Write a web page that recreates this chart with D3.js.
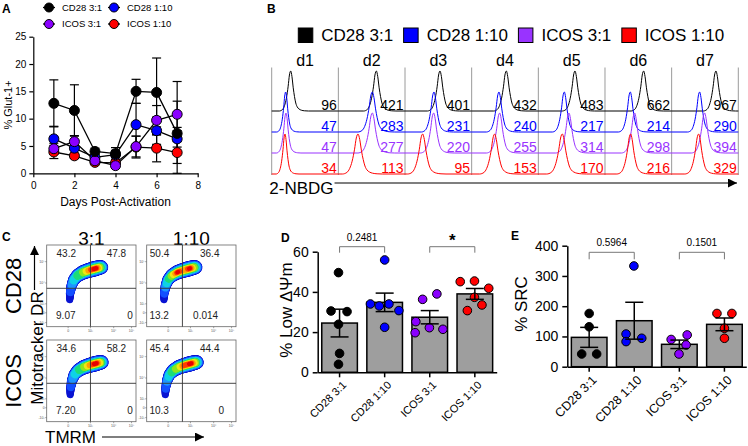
<!DOCTYPE html>
<html><head><meta charset="utf-8">
<script src="https://cdn.jsdelivr.net/npm/d3@7"></script>
<style>body{margin:0;background:#fff}svg{display:block}</style>
</head><body><svg id="c" width="748" height="446"></svg>
<script>
// ================= DATA =================
const seriesNames = ["CD28 3:1", "CD28 1:10", "ICOS 3:1", "ICOS 1:10"];
const seriesColors = ["#000000", "#0000ff", "#8a00ff", "#ff0000"];
const histColors = ["#000000", "#0000ff", "#9933ff", "#ff0000"];

// Panel A: % Glut-1+ over days
const daysA = [1, 2, 3, 4, 5, 6, 7];
const glutCD28_31  = [12.8, 11.5, 4.0, 3.6, 15.0, 14.8, 7.3];
const glutCD28_110 = [6.3, 4.6, 2.9, 3.4, 8.9, 7.8, 6.3];
const glutICOS_31  = [4.5, 5.8, 2.3, 1.4, 4.9, 9.7, 10.8];
const glutICOS_110 = [3.9, 3.2, 2.0, 1.9, 4.8, 4.6, 3.8];
const glutErrCD28_31  = [4.3, 4.7, 0.6, 1.1, 2.2, 6.3, 9.5];
const glutErrCD28_110 = [2.3, 1.2, 0.6, 0.8, 3.9, 2.5, 1.5];
const glutErrICOS_31  = [1.0, 1.1, 0.4, 0.3, 1.9, 2.7, 2.4];
const glutErrICOS_110 = [1.2, 0.5, 0.4, 0.3, 2.0, 2.5, 2.0];
const ticksAx = [0, 2, 4, 6, 8];
const ticksAy = [0, 5, 10, 15, 20, 25];

// Panel B: 2-NBDG histograms (MFI labels, peak position & width on a 0-100 channel scale)
const daysB = ["d1", "d2", "d3", "d4", "d5", "d6", "d7"];
const mfiCD28_31  = [96, 421, 401, 432, 483, 662, 967];
const mfiCD28_110 = [47, 283, 231, 240, 217, 214, 290];
const mfiICOS_31  = [47, 277, 220, 255, 314, 298, 394];
const mfiICOS_110 = [34, 113, 95, 153, 170, 216, 329];
const peakCD28_31  = [28.5, 57, 52.5, 52, 55, 58, 66.5];
const peakCD28_110 = [21, 51, 43.5, 41, 39, 38, 42];
const peakICOS_31  = [21.5, 51, 43, 42, 46, 44.5, 49.5];
const peakICOS_110 = [20, 29.5, 26.5, 34.5, 36, 38.5, 40.5];
const widthCD28_31  = [3.8, 4.2, 4.2, 4.2, 4.2, 4.2, 4.2];
const widthCD28_110 = [3.0, 4.8, 4.2, 4.2, 4.0, 4.0, 4.0];
const widthICOS_31  = [3.2, 4.8, 4.4, 4.4, 4.4, 4.4, 4.4];
const widthICOS_110 = [3.0, 5.2, 5.0, 5.0, 5.2, 4.6, 4.6];
// shared histogram profile (offset in widths, relative height)
const histProfileT = [-4.5, -3.2, -2.4, -1.7, -1, -0.5, 0, 0.5, 1, 1.5, 2, 2.6, 3.3, 4.2, 5.5, 7];
const histProfileH = [0, 0.04, 0.14, 0.32, 0.62, 0.9, 1, 0.86, 0.58, 0.36, 0.2, 0.1, 0.05, 0.02, 0.005, 0];

// Panel C: quadrant percentages
const ratiosC = ["3:1", "1:10"];
const costimC = ["CD28", "ICOS"];
const quadUL = ["43.2", "50.4", "34.6", "45.4"];
const quadUR = ["47.8", "36.4", "58.2", "44.4"];
const quadLL = ["9.07", "13.2", "7.20", "10.3"];
const quadLR = ["0", "0.014", "0", "0"];
const gateX = [0.49, 0.40, 0.49, 0.40];
const gateY = [0.47, 0.47, 0.47, 0.47];
// density ridge (TMRM, Mitotracker on 0-1 display scale) and relative density along it
const spineTMRM = [0.258, 0.262, 0.278, 0.305, 0.350, 0.412, 0.482, 0.545, 0.590, 0.615];
const spineMito = [0.33, 0.41, 0.50, 0.575, 0.630, 0.668, 0.693, 0.712, 0.724, 0.728];
const spineThick = [0.65, 0.8, 0.95, 1.1, 1.25, 1.35, 1.42, 1.45, 1.38, 1.25];
const blobShift = [0, -0.065, 0.005, -0.05];
const densCD28_31  = [0.02, 0.08, 0.18, 0.30, 0.42, 0.56, 0.85, 1.0, 0.60, 0.20];
const densCD28_110 = [0.02, 0.10, 0.22, 0.38, 0.60, 0.95, 0.72, 0.95, 0.55, 0.20];
const densICOS_31  = [0.02, 0.08, 0.16, 0.28, 0.40, 0.52, 0.80, 1.0, 0.65, 0.22];
const densICOS_110 = [0.02, 0.10, 0.20, 0.34, 0.48, 0.62, 0.92, 0.96, 0.60, 0.20];
const biexTicks = ["0", "10³", "10⁴", "10⁵"];
const biexTickPosX = [0.24, 0.49, 0.75, 0.95];
const biexYTicks = ["-10³", "0", "10³", "10⁴", "10⁵"];
const biexTickPosY = [0.05, 0.17, 0.28, 0.535, 0.796];

// Panel D: % Low ΔΨm
const lowPsiMean = [24.5, 34.8, 27.4, 39.0];
const lowPsiSem  = [6.9, 4.6, 3.3, 2.7];
const lowPsiCD28_31  = [49.6, 30.5, 30.2, 23.9, 9.4, 4.0];
const lowPsiCD28_110 = [55.9, 34.0, 33.0, 34.0, 30.7, 22.4];
const lowPsiICOS_31  = [36.3, 39.0, 25.2, 19.7, 22.2, 21.4];
const lowPsiICOS_110 = [45.1, 45.4, 41.8, 37.3, 30.7, 33.5];
const ticksD = [0, 20, 40, 60];
const pD = ["0.2481", "*"];

// Panel E: % SRC
const srcMean = [97, 152, 74, 140];
const srcSem  = [33, 61, 14, 21];
const srcCD28_31  = [176, 132, 42, 42];
const srcCD28_110 = [333, 108, 83, 94];
const srcICOS_31  = [90, 105, 72, 42];
const srcICOS_110 = [176, 176, 127, 94];
const ticksE = [0, 100, 200, 300, 400];
const pE = ["0.5964", "0.1501"];

// dot jitter (fraction of bar width) – layout only
const jitterD = [[-0.03, -0.24, 0.21, -0.03, 0, -0.03], [0, -0.40, -0.15, 0.12, 0.40, 0], [-0.20, 0.20, -0.39, -0.41, -0.01, 0.37], [-0.41, -0.01, 0.39, -0.01, -0.21, 0.20]];
const jitterE = [[0, 0, -0.21, 0.21], [-0.01, -0.23, -0.23, 0.21], [-0.23, 0.22, 0.19, -0.01], [-0.21, 0.21, 0, 0]];

// ================= DRAW =================
const FONT = '"Liberation Sans", Arial, Helvetica, sans-serif';
const svg = d3.select("#c").attr("font-family", FONT);
svg.append("rect").attr("width", 748).attr("height", 446).attr("fill", "#fff");

function styleAxis(g, fs, sw) {
  g.attr("font-family", FONT).attr("font-size", fs);
  g.selectAll("path.domain").attr("stroke", "#000").attr("stroke-width", sw);
  g.selectAll(".tick line").attr("stroke", "#000").attr("stroke-width", sw);
  g.selectAll(".tick text").attr("fill", "#000");
}
function panelLabel(t, x, y) {
  svg.append("text").attr("x", x).attr("y", y).attr("font-size", 12).attr("font-weight", "bold").text(t);
}
const defs = svg.append("defs");
defs.append("marker").attr("id", "arr").attr("viewBox", "0 0 10 10").attr("refX", 10).attr("refY", 5)
  .attr("markerWidth", 9).attr("markerHeight", 9).attr("markerUnits", "userSpaceOnUse").attr("orient", "auto")
  .append("path").attr("d", "M0,0L10,5L0,10Z").attr("fill", "#000");

// ---------- Panel A ----------
panelLabel("A", 2, 13);
const xA = d3.scaleLinear().domain([0, 8]).range([33.3, 197.7]);
const yA = d3.scaleLinear().domain([0, 25]).range([173.3, 36.7]);
const gA = svg.append("g");
styleAxis(gA.append("g").attr("transform", `translate(0,${yA(0)})`)
  .call(d3.axisBottom(xA).tickValues(ticksAx).tickSize(4).tickSizeOuter(0).tickPadding(5)), 10, 1.2);
styleAxis(gA.append("g").attr("transform", `translate(${xA(0)},0)`)
  .call(d3.axisLeft(yA).tickValues(ticksAy).tickSize(4).tickSizeOuter(0).tickPadding(3)), 10, 1.2);
gA.append("text").attr("x", xA(4)).attr("y", 206).attr("text-anchor", "middle").attr("font-size", 12).text("Days Post-Activation");
gA.append("text").attr("transform", `translate(12,${yA(12.5)}) rotate(-90)`).attr("text-anchor", "middle").attr("font-size", 11).text("% Glut-1+");

const glutMeans = [glutCD28_31, glutCD28_110, glutICOS_31, glutICOS_110];
const glutErrs = [glutErrCD28_31, glutErrCD28_110, glutErrICOS_31, glutErrICOS_110];
const lineA = d3.line().x((d, i) => xA(daysA[i])).y(d => yA(d));
glutMeans.forEach(s => gA.append("path").attr("d", lineA(s)).attr("fill", "none").attr("stroke", "#000").attr("stroke-width", 1.3));
glutMeans.forEach((s, si) => {
  s.forEach((m, i) => {
    const e = glutErrs[si][i], x = xA(daysA[i]);
    const lo = Math.max(0, m - e), hi = m + e;
    gA.append("line").attr("x1", x).attr("x2", x).attr("y1", yA(lo)).attr("y2", yA(hi)).attr("stroke", "#000").attr("stroke-width", 1.2);
    [lo, hi].forEach(v => gA.append("line").attr("x1", x - 4.5).attr("x2", x + 4.5).attr("y1", yA(v)).attr("y2", yA(v)).attr("stroke", "#000").attr("stroke-width", 1.2));
  });
});
[3, 1, 2, 0].forEach(si => {
  gA.selectAll(null).data(glutMeans[si]).enter().append("circle")
    .attr("cx", (d, i) => xA(daysA[i])).attr("cy", d => yA(d)).attr("r", 5)
    .attr("fill", seriesColors[si]).attr("stroke", "#000").attr("stroke-width", 1);
});
const legA = svg.append("g").attr("font-size", 9.5);
const legPosA = d3.scaleOrdinal().domain(seriesNames).range([[49, 7.5], [114, 7.5], [49, 24], [114, 24]]);
seriesNames.forEach((n, i) => {
  const [x, y] = legPosA(n);
  legA.append("line").attr("x1", x - 6).attr("x2", x + 6).attr("y1", y).attr("y2", y).attr("stroke", "#000").attr("stroke-width", 1.3);
  legA.append("circle").attr("cx", x).attr("cy", y).attr("r", 4.5).attr("fill", seriesColors[i]).attr("stroke", "#000");
  legA.append("text").attr("x", x + 13).attr("y", y + 3.4).text(n);
});

// ---------- Panel B ----------
panelLabel("B", 267, 13);
const gB = svg.append("g");
let lx = 298.3;
seriesNames.forEach((n, i) => {
  gB.append("rect").attr("x", lx).attr("y", 28).attr("width", 14.5).attr("height", 14.5)
    .attr("fill", histColors[i]).attr("stroke", "#000").attr("stroke-width", 1);
  const t = gB.append("text").attr("x", lx + 23).attr("y", 40.7).attr("font-size", 17).text(n);
  lx += 23 + t.node().getComputedTextLength() + 10.5;
});
const colB = d3.scaleBand().domain(daysB).range([271.7, 738.3]).padding(0);
const rowB = d3.scalePoint().domain(seriesNames).range([111, 174]);
const xIn = d3.scaleLinear().domain([0, 100]).range([0, colB.bandwidth()]);
const hB = d3.scaleLinear().domain([0, 1]).range([0, 40]);
daysB.concat(["end"]).forEach((d, i) => {
  const x = i < daysB.length ? colB(d) : colB.range()[1];
  gB.append("line").attr("x1", x).attr("x2", x).attr("y1", 67.5).attr("y2", 175).attr("stroke", "#9a9a9a").attr("stroke-width", 1);
});
daysB.forEach(d => gB.append("text").attr("x", colB(d) + colB.bandwidth() / 2).attr("y", 66).attr("text-anchor", "middle").attr("font-size", 16).text(d));
const peaks = [peakCD28_31, peakCD28_110, peakICOS_31, peakICOS_110];
const widths = [widthCD28_31, widthCD28_110, widthICOS_31, widthICOS_110];
const mfis = [mfiCD28_31, mfiCD28_110, mfiICOS_31, mfiICOS_110];
const histLine = d3.line().curve(d3.curveMonotoneX);
seriesNames.forEach((s, si) => {
  daysB.forEach((d, di) => {
    const p = peaks[si][di], w = widths[si][di];
    const pts = [[0, 0]].concat(histProfileT.map((t, k) => [Math.max(0.5, Math.min(99.5, p + t * w)), histProfileH[k]])).concat([[100, 0]]);
    gB.append("path").attr("d", histLine(pts.map(q => [colB(d) + xIn(q[0]), rowB(s) - hB(q[1])])))
      .attr("fill", "none").attr("stroke", histColors[si]).attr("stroke-width", 1);
  });
});
seriesNames.forEach((s, si) => {
  daysB.forEach((d, di) => {
    gB.append("text").attr("x", colB(d) + colB.bandwidth() - 1.5).attr("y", rowB(s) - 1)
      .attr("text-anchor", "end").attr("font-size", 14).attr("fill", histColors[si]).text(mfis[si][di]);
  });
});
const nb = gB.append("text").attr("x", 269.3).attr("y", 194).attr("font-size", 17).text("2-NBDG");
gB.append("line").attr("x1", 269.3 + nb.node().getComputedTextLength() + 1).attr("x2", 737).attr("y1", 183).attr("y2", 183)
  .attr("stroke", "#000").attr("stroke-width", 1.2).attr("marker-end", "url(#arr)");

// ---------- Panel C ----------
panelLabel("C", 2, 241);
const gC = svg.append("g");
const colC = d3.scaleBand().domain(ratiosC).range([46.7, 236]).paddingInner(0.107);
const rowC = d3.scaleBand().domain(costimC).range([245, 421.7]).paddingInner(0.14);
ratiosC.forEach(r => gC.append("text").attr("x", colC(r) + colC.bandwidth() / 2).attr("y", 245).attr("text-anchor", "middle").attr("font-size", 19).text(r));
costimC.forEach(c => gC.append("text").attr("transform", `translate(21,${rowC(c) + rowC.bandwidth() / 2}) rotate(-90)`).attr("text-anchor", "middle").attr("font-size", 22).text(c));
const layerColors = ["#0a14d2", "#1450ff", "#1e96ff", "#10d2e6", "#1edc78", "#8ce61e", "#f0e614", "#ffa000", "#ff3c00", "#e60000"];
const layerThr    = [0, 0.1, 0.2, 0.3, 0.42, 0.55, 0.68, 0.8, 0.88, 0.95];
const layerWidth  = [10.5, 9.4, 8.3, 7.3, 6.4, 5.5, 4.7, 4.0, 3.3, 2.6];
const densAll = [densCD28_31, densCD28_110, densICOS_31, densICOS_110];
const quadLRend = [0.965, 0.80, 0.965, 0.865];
const labelShift = [0, -0.075, 0, -0.075];
costimC.forEach((c, ri) => ratiosC.forEach((r, ci) => {
  const k = ri * 2 + ci;
  const x = d3.scaleLinear().domain([0, 1]).range([colC(r), colC(r) + colC.bandwidth()]);
  const y = d3.scaleLinear().domain([0, 1]).range([rowC(c) + rowC.bandwidth(), rowC(c)]);
  const g = gC.append("g");
  g.append("rect").attr("x", x(0)).attr("y", y(1)).attr("width", x(1) - x(0)).attr("height", y(0) - y(1))
    .attr("fill", "#fff").attr("stroke", "#666").attr("stroke-width", 0.8);
  const fine = [];
  const dens = densAll[k];
  for (let i = 0; i < spineTMRM.length - 1; i++) {
    for (let s = 0; s < 8; s++) {
      const f = s / 8;
      fine.push({
        px: x(spineTMRM[i] + (spineTMRM[i + 1] - spineTMRM[i]) * f + blobShift[k]),
        py: y(spineMito[i] + (spineMito[i + 1] - spineMito[i]) * f),
        d: dens[i] + (dens[i + 1] - dens[i]) * f,
        t: spineThick[i] + (spineThick[i + 1] - spineThick[i]) * f
      });
    }
  }
  const L = spineTMRM.length - 1;
  fine.push({ px: x(spineTMRM[L] + blobShift[k]), py: y(spineMito[L]), d: dens[L], t: spineThick[L] });
  layerColors.forEach((col, li) => {
    for (let i = 0; i < fine.length - 1; i++) {
      const a = fine[i], b = fine[i + 1];
      if (Math.max(a.d, b.d) < layerThr[li]) continue;
      g.append("line").attr("x1", a.px).attr("y1", a.py).attr("x2", b.px).attr("y2", b.py)
        .attr("stroke", col).attr("stroke-width", layerWidth[li] * (a.t + b.t) / 2).attr("stroke-linecap", "round");
    }
  });
  g.append("line").attr("x1", x(gateX[k])).attr("x2", x(gateX[k])).attr("y1", y(0)).attr("y2", y(1)).attr("stroke", "#333").attr("stroke-width", 0.9);
  g.append("line").attr("x1", x(0)).attr("x2", x(1)).attr("y1", y(gateY[k])).attr("y2", y(gateY[k])).attr("stroke", "#333").attr("stroke-width", 0.9);
  const fs = 10;
  g.append("text").attr("x", x(0.11 + labelShift[k])).attr("y", y(1) + 12).attr("font-size", fs).attr("fill", "#222").text(quadUL[k]);
  g.append("text").attr("x", x(0.672 + labelShift[k])).attr("y", y(1) + 12).attr("font-size", fs).attr("fill", "#222").text(quadUR[k]);
  g.append("text").attr("x", x(0.105 + labelShift[k])).attr("y", y(1) + 74).attr("font-size", fs).attr("fill", "#222").text(quadLL[k]);
  g.append("text").attr("x", x(quadLRend[k])).attr("y", y(1) + 74).attr("text-anchor", "end").attr("font-size", fs).attr("fill", "#222").text(quadLR[k]);
  biexTicks.forEach((t, i) => {
    g.append("line").attr("x1", x(biexTickPosX[i])).attr("x2", x(biexTickPosX[i])).attr("y1", y(0)).attr("y2", y(0) + 1.5).attr("stroke", "#666").attr("stroke-width", 0.6);
    g.append("text").attr("x", x(biexTickPosX[i])).attr("y", y(0) + 5).attr("text-anchor", "middle").attr("font-size", 3.5).attr("fill", "#555").text(t);
  });
  biexYTicks.forEach((t, i) => {
    g.append("line").attr("x1", x(0) - 1.5).attr("x2", x(0)).attr("y1", y(biexTickPosY[i])).attr("y2", y(biexTickPosY[i])).attr("stroke", "#666").attr("stroke-width", 0.6);
    g.append("text").attr("x", x(0) - 2).attr("y", y(biexTickPosY[i]) + 1.2).attr("text-anchor", "end").attr("font-size", 3.5).attr("fill", "#555").text(t);
  });
}));
gC.append("text").attr("transform", "translate(43,348) rotate(-90)").attr("text-anchor", "middle").attr("font-size", 17).text("Mitotracker DR");
gC.append("line").attr("x1", 34.5).attr("x2", 34.5).attr("y1", 290).attr("y2", 246).attr("stroke", "#000").attr("stroke-width", 1.2).attr("marker-end", "url(#arr)");
gC.append("text").attr("x", 45).attr("y", 442.5).attr("font-size", 17).text("TMRM");
gC.append("line").attr("x1", 102).attr("x2", 204).attr("y1", 437).attr("y2", 437).attr("stroke", "#000").attr("stroke-width", 1.2).attr("marker-end", "url(#arr)");

// ---------- Bar panels D & E ----------
function barPanel(opt) {
  const g = svg.append("g");
  const x = d3.scaleBand().domain(seriesNames).range(opt.xr).paddingInner(0.21).paddingOuter(0.09);
  const y = d3.scaleLinear().domain(opt.yd).range(opt.yr);
  styleAxis(g.append("g").attr("transform", `translate(${opt.xr[0]},0)`)
    .call(d3.axisLeft(y).tickValues(opt.ticks).tickSize(5).tickSizeOuter(0).tickPadding(4)), 14, 1.5);
  const xa = g.append("g").attr("transform", `translate(0,${y(0)})`)
    .call(d3.axisBottom(x).tickSize(5).tickSizeOuter(0).tickFormat(""));
  styleAxis(xa, 11, 1.5);
  seriesNames.forEach(n => g.append("text")
    .attr("transform", `translate(${x(n) + x.bandwidth() / 2 + 2},${y(0) + 8}) rotate(-45)`)
    .attr("text-anchor", "end").attr("dy", "0.7em").attr("font-size", opt.lfs).text(n));
  g.selectAll(null).data(opt.mean).enter().append("rect")
    .attr("x", (d, i) => x(seriesNames[i])).attr("width", x.bandwidth())
    .attr("y", d => y(d)).attr("height", d => y(0) - y(d))
    .attr("fill", "#9e9e9e").attr("stroke", "#000").attr("stroke-width", 1.5);
  opt.pts.forEach((arr, si) => {
    g.selectAll(null).data(arr).enter().append("circle")
      .attr("cx", (d, i) => x(seriesNames[si]) + x.bandwidth() / 2 + opt.jit[si][i] * x.bandwidth())
      .attr("cy", d => y(d)).attr("r", 4.3).attr("fill", seriesColors[si]).attr("stroke", "#000").attr("stroke-width", 1);
  });
  opt.mean.forEach((m, i) => {
    const cx = x(seriesNames[i]) + x.bandwidth() / 2, e = opt.sem[i];
    g.append("line").attr("x1", cx).attr("x2", cx).attr("y1", y(m - e)).attr("y2", y(m + e)).attr("stroke", "#000").attr("stroke-width", 1.5);
    [m - e, m + e].forEach(v => g.append("line").attr("x1", cx - 9).attr("x2", cx + 9).attr("y1", y(v)).attr("y2", y(v)).attr("stroke", "#000").attr("stroke-width", 1.5));
  });
  [[0, 1], [2, 3]].forEach(([a, b], bi) => {
    const xa1 = x(seriesNames[a]) + x.bandwidth() / 2, xb1 = x(seriesNames[b]) + x.bandwidth() / 2;
    g.append("path").attr("d", `M${xa1},${opt.brY + opt.brLeg}V${opt.brY}H${xb1}V${opt.brY + opt.brLeg}`)
      .attr("fill", "none").attr("stroke", "#777").attr("stroke-width", 1);
    const star = opt.p[bi] === "*";
    g.append("text").attr("x", (xa1 + xb1) / 2).attr("y", star ? opt.brY - 1 : opt.brY - 6)
      .attr("text-anchor", "middle").attr("font-size", star ? 17 : 10).attr("font-weight", star ? "bold" : "normal").text(opt.p[bi]);
  });
  g.append("text").attr("transform", `translate(${opt.titleX},${opt.titleY}) rotate(-90)`).attr("text-anchor", "middle").attr("font-size", 17).text(opt.title);
}
panelLabel("D", 281, 241.5);
barPanel({ xr: [317.7, 496.7], yd: [0, 60], yr: [372.3, 251.7], ticks: ticksD, mean: lowPsiMean, sem: lowPsiSem,
  pts: [lowPsiCD28_31, lowPsiCD28_110, lowPsiICOS_31, lowPsiICOS_110], jit: jitterD, p: pD,
  brY: 246.7, brLeg: 6, lfs: 11, title: "% Low ΔΨm", titleX: 291.5, titleY: 310 });
panelLabel("E", 511, 240);
barPanel({ xr: [567.3, 746.3], yd: [0, 400], yr: [366.7, 245.7], ticks: ticksE, mean: srcMean, sem: srcSem,
  pts: [srcCD28_31, srcCD28_110, srcICOS_31, srcICOS_110], jit: jitterE, p: pE,
  brY: 252.3, brLeg: 7, lfs: 12.5, title: "% SRC", titleX: 527, titleY: 304 });
</script></body></html>
